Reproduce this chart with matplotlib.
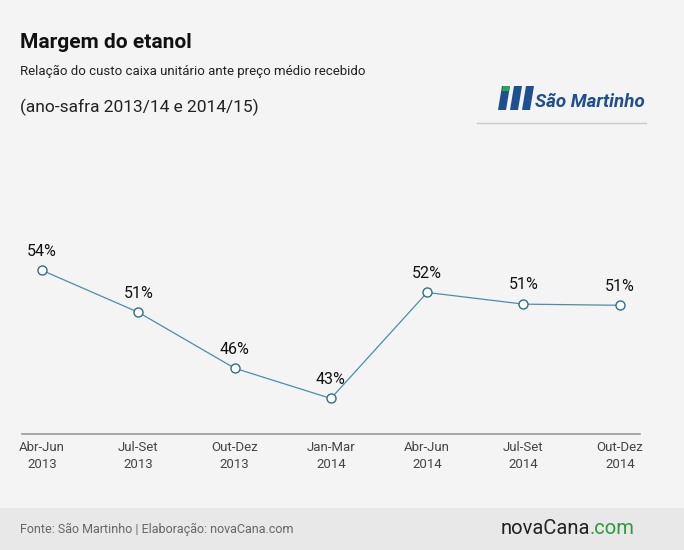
import matplotlib
matplotlib.use("Agg")
import matplotlib.pyplot as plt
from matplotlib.patches import Rectangle, Polygon

periods = ["Abr-Jun\n2013", "Jul-Set\n2013", "Out-Dez\n2013", "Jan-Mar\n2014",
           "Abr-Jun\n2014", "Jul-Set\n2014", "Out-Dez\n2014"]
values = [54.0, 50.4, 45.6, 43.0, 52.1, 51.1, 51.0]
labels = ["54%", "51%", "46%", "43%", "52%", "51%", "51%"]

W, H = 684, 550
fig = plt.figure(figsize=(W/100, H/100), dpi=100)
fig.patch.set_facecolor("#f4f4f4")
plt.rcParams['font.family'] = ['Roboto', 'DejaVu Sans']

def fx(px): return px / W
def fy(py): return 1 - py / H

fig.patches.append(Rectangle((0, 0), 1, fy(508), transform=fig.transFigure,
                             facecolor="#e8e8e8", edgecolor="none", zorder=0))

ax = fig.add_axes([fx(22), fy(434), fx(640) - fx(22), fy(130) - fy(434)])
ax.set_facecolor("none")
x = list(range(len(values)))
ax.plot(x, values, color="#4a8fa8", lw=0.9, marker="o", ms=6.5,
        mfc="white", mec="#2f6f8a", mew=1.0, zorder=3)
for xi, v, l in zip(x, values, labels):
    ax.text(xi, v + 1.0, l, ha="center", va="bottom", fontsize=11.5, color="#111111")
ax.set_xlim(-0.208, 6.21)
ax.set_ylim(39.95, 66.05)
ax.set_yticks([])
ax.set_xticks(x)
ax.set_xticklabels(periods, fontsize=9.5, color="#444444", linespacing=1.4)
ax.tick_params(axis="x", length=0, pad=5)
for s in ["top", "right", "left"]:
    ax.spines[s].set_visible(False)
ax.spines["bottom"].set_color("#999999")
ax.spines["bottom"].set_linewidth(1.2)

fig.text(fx(20), fy(43), "Margem do etanol", fontsize=15, fontweight="bold",
         color="#111111", va="center")
fig.text(fx(20), fy(71), "Relação do custo caixa unitário ante preço médio recebido",
         fontsize=9.5, color="#222222", va="center")
fig.text(fx(20), fy(107), "(ano-safra 2013/14 e 2014/15)", fontsize=12.5,
         color="#222222", va="center")

blue = "#1d4f91"
for xs in [498, 510, 522]:
    fig.patches.append(Polygon([(fx(xs), fy(110)), (fx(xs + 8), fy(110)),
                                (fx(xs + 12), fy(86)), (fx(xs + 4), fy(86))],
                               closed=True, transform=fig.transFigure,
                               facecolor=blue, edgecolor="none"))
fig.patches.append(Polygon([(fx(503), fy(86)), (fx(510), fy(86)), (fx(509), fy(91)), (fx(502), fy(91))],
                           closed=True, transform=fig.transFigure, facecolor="#2aa84a", edgecolor="none"))
fig.text(fx(535), fy(102), "São Martinho", fontsize=13.5, fontweight="bold",
         fontstyle="italic", color=blue, va="center")
fig.lines.append(plt.Line2D([fx(477), fx(646)], [fy(123), fy(123)],
                            transform=fig.transFigure, color="#c8c8c8", lw=1))

fig.text(fx(20), fy(529), "Fonte: São Martinho | Elaboração: novaCana.com",
         fontsize=9, color="#666666", va="center")
fig.text(fx(590), fy(529), "novaCana", fontsize=14.5, color="#222222", va="center", ha="right")
fig.text(fx(590), fy(529), ".com", fontsize=14.5, color="#2e9a3e", va="center", ha="left")

fig.savefig("out.png", dpi=100, facecolor=fig.get_facecolor())
